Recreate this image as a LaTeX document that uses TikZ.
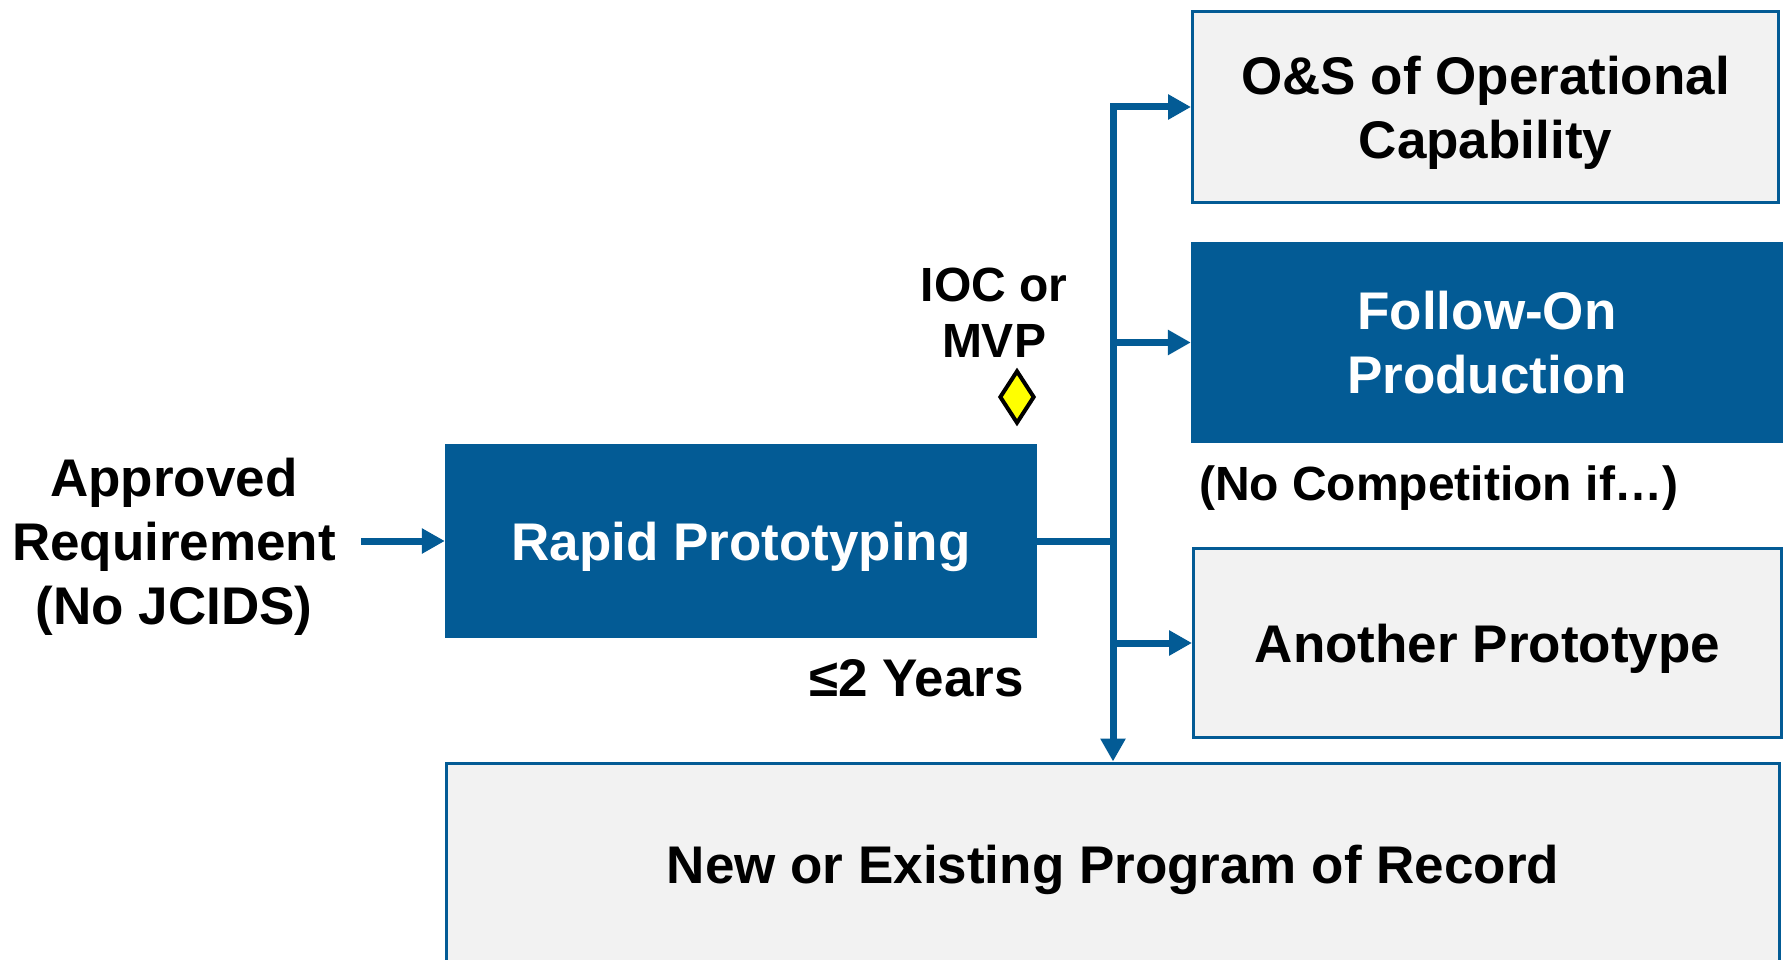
\documentclass[tikz,border=0pt]{standalone}
\usepackage{fontspec}
\setmainfont{Liberation Sans}
\usetikzlibrary{shapes.geometric,arrows.meta}
\definecolor{dblue}{RGB}{3,91,149}
\definecolor{lgrey}{RGB}{242,242,242}
\definecolor{myyellow}{RGB}{255,255,0}
\begin{document}
\begin{tikzpicture}[x=1pt,y=-1pt,
  txt/.style={font=\bfseries\fontsize{53}{64}\selectfont, align=center, inner sep=0pt, text depth=0pt},
  lbl/.style={font=\bfseries\fontsize{48}{56}\selectfont, align=center, inner sep=0pt},
  greybox/.style={txt, draw=dblue, line width=3pt, fill=lgrey},
  bluebox/.style={txt, draw=none, fill=dblue, text=white},
  tip/.tip={Triangle[length=23pt,width=24pt]},
  conn/.style={draw=dblue, line width=7pt}]
\useasboundingbox (0,0) rectangle (1785,960);
\fill[white] (0,0) rectangle (1785,960);

\node[greybox, minimum width=586pt, minimum height=191pt] (os) at (1485.5,107) {O\&S of Operational\\Capability};
\node[bluebox, minimum width=592pt, minimum height=201pt] (fo) at (1487,342.5) {Follow-On\\Production};
\node[lbl, text depth=0pt] (nocomp) at (1439,483) {(No Competition if…)};
\node[greybox, minimum width=588pt, minimum height=189pt] (ap) at (1487.5,643) {Another Prototype};
\node[bluebox, minimum width=592pt, minimum height=194pt] (rp) at (741,541) {Rapid Prototyping};
\node[txt, inner xsep=25pt] (req) at (174,541) {Approved\\Requirement\\(No JCIDS)};
\node[lbl] (ioc) at (994,313) {IOC or\\MVP};
\node[diamond, draw=black, line width=4pt, fill=myyellow, inner sep=0pt, minimum width=35pt, minimum height=53pt] (ms) at (1017,397) {};
\node[lbl, font=\bfseries\fontsize{53}{60}\selectfont] (yrs) at (916.5,678.5) {≤2 Years};

\begin{scope}
\clip (0,0) rectangle (1785,960);
\node[greybox, minimum width=1333pt, minimum height=202pt] (new) at (1113,864) {New or Existing Program of Record};
\end{scope}

\coordinate (jt) at (new.north |- os.west);
\draw[conn, tip-tip] (os.west) -- (jt) -- (new.north);
\draw[conn] (rp.east) -- (rp.east -| jt);
\draw[conn, -tip] (fo.west -| jt) -- (fo.west);
\draw[conn, -tip] (ap.west -| jt) -- (ap.west);
\draw[conn, -tip] (req.east) -- (rp.west);
\end{tikzpicture}
\end{document}
